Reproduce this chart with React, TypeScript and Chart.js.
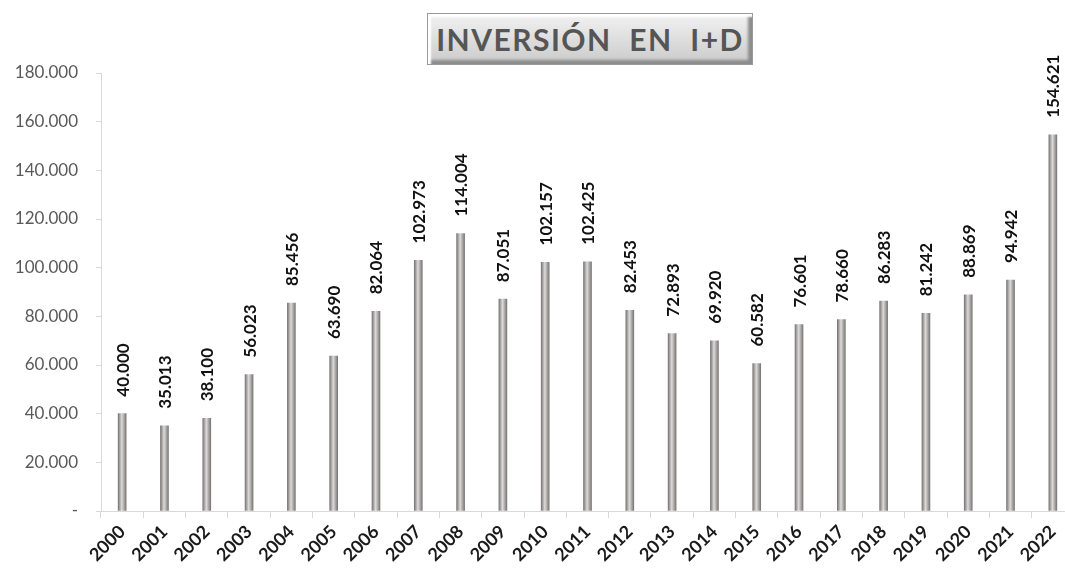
import React, { useEffect, useRef } from "react";
import { Chart, registerables } from "chart.js";

Chart.register(...registerables);

const years = ["2000","2001","2002","2003","2004","2005","2006","2007","2008","2009","2010","2011","2012","2013","2014","2015","2016","2017","2018","2019","2020","2021","2022"];
const investment = [40000,35013,38100,56023,85456,63690,82064,102973,114004,87051,102157,102425,82453,72893,69920,60582,76601,78660,86283,81242,88869,94942,154621];
const yMax = 180000;
const yStep = 20000;
const titleText = "INVERSIÓN  EN  I+D";

function fmt(v: number): string {
  if (v === 0) return "-";
  return String(Math.round(v)).replace(/\B(?=(\d{3})+(?!\d))/g, ".");
}

const labelPlugin = {
  id: "barLabels",
  afterDatasetsDraw(chart: any) {
    const ctx = chart.ctx;
    const meta = chart.getDatasetMeta(0);
    ctx.save();
    ctx.fillStyle = "#111111";
    ctx.font = "bold 17px Lato";
    ctx.textAlign = "left";
    ctx.textBaseline = "middle";
    meta.data.forEach((el: any, i: number) => {
      ctx.save();
      ctx.translate(el.x + 1, el.y - 17);
      ctx.rotate(-Math.PI / 2);
      ctx.fillText(fmt(investment[i]), 0, 0);
      ctx.restore();
    });
    ctx.restore();
  },
};

export default function App() {
  const ref = useRef<HTMLCanvasElement | null>(null);
  useEffect(() => {
    if (!ref.current) return;
    const chart = new Chart(ref.current, {
      type: "bar",
      data: {
        labels: years,
        datasets: [
          {
            data: investment,
            barThickness: 8,
            borderWidth: 0,
            backgroundColor: (c: any) => {
              const ch = c.chart;
              if (!ch.chartArea || !ch.scales.x) return "#a0a0a0";
              const x = ch.scales.x.getPixelForValue(c.dataIndex);
              const g = ch.ctx.createLinearGradient(x - 4, 0, x + 4, 0);
              g.addColorStop(0, "#7a7777");
              g.addColorStop(0.45, "#dcdada");
              g.addColorStop(0.7, "#b0adad");
              g.addColorStop(1, "#7a7777");
              return g;
            },
          },
        ],
      },
      options: {
        animation: false,
        responsive: false,
        maintainAspectRatio: false,
        layout: { padding: { top: 73, right: 6, left: 0, bottom: 0 } },
        plugins: { legend: { display: false }, tooltip: { enabled: false }, title: { display: false } },
        scales: {
          x: {
            grid: { drawOnChartArea: false, drawTicks: true, tickLength: 7, color: "#d9d9d9", offset: true },
            border: { display: true, color: "#d9d9d9" },
            ticks: {
              maxRotation: 45,
              minRotation: 45,
              autoSkip: false,
              color: "#1a1a1a",
              font: { family: "Lato", size: 18, weight: "bold" },
              padding: 3,
            },
            afterFit: (s: any) => { s.height = 59; },
          },
          y: {
            min: 0,
            max: yMax,
            grid: { drawOnChartArea: false, drawTicks: true, tickLength: 5, color: "#d9d9d9" },
            border: { display: true, color: "#d9d9d9" },
            ticks: {
              stepSize: yStep,
              color: "#595959",
              font: { family: "Lato", size: 17 },
              padding: 18,
              callback: (v: any) => fmt(Number(v)),
            },
            afterFit: (s: any) => { s.width = 101; },
          },
        },
      },
      plugins: [labelPlugin],
    } as any);
    return () => chart.destroy();
  }, []);

  return (
    <div style={{ position: "fixed", left: 0, top: 0, width: 1065, height: 570, overflow: "hidden", background: "#fff" }}>
      <canvas ref={ref} width={1080} height={570} style={{ position: "absolute", left: 0, top: 0, width: 1080, height: 570 }} />
      <div
        style={{
          position: "absolute",
          left: 427,
          top: 13,
          width: 326,
          height: 52,
          boxSizing: "border-box",
          background: "linear-gradient(#f2f2f2, #dcdcdc 55%, #cbcbcb)",
          border: "1px solid #9a9a9a",
          boxShadow: "inset 3px 3px 2px #ffffff, inset -4px -4px 3px #8c8c8c",
          display: "flex",
          alignItems: "center",
          justifyContent: "center",
          fontFamily: "Lato",
          fontWeight: "bold",
          fontSize: 30,
          letterSpacing: 1.5,
          color: "#555555",
          whiteSpace: "pre",
          overflow: "hidden",
        }}
      >
        {titleText}
      </div>
    </div>
  );
}
